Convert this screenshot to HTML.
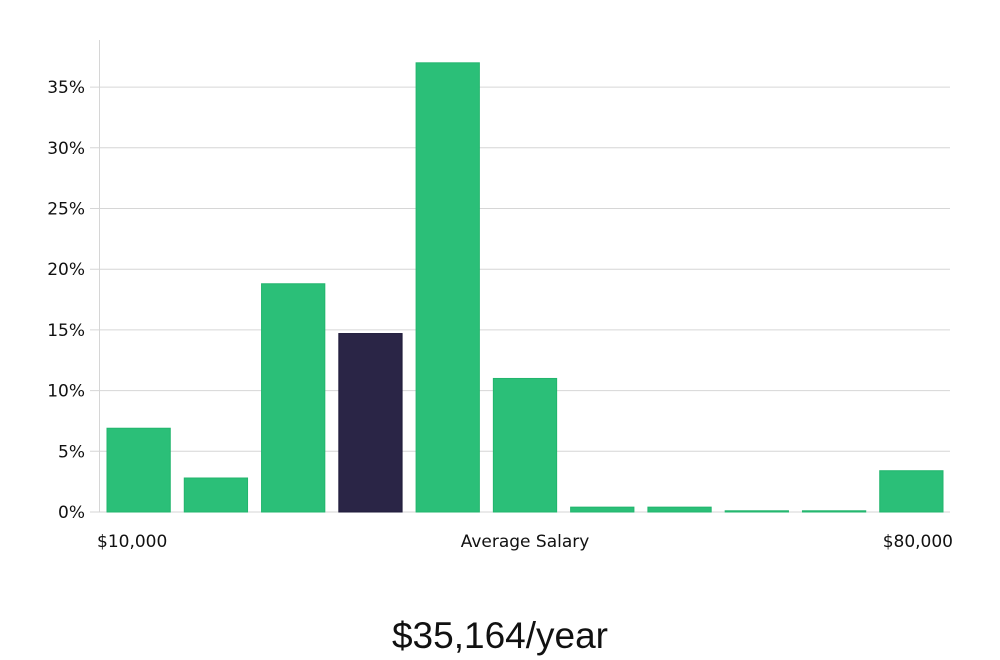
<!DOCTYPE html>
<html><head><meta charset="utf-8"><style>
html,body{margin:0;padding:0;background:#fff;width:1000px;height:660px;overflow:hidden}
svg text{font-family:"DejaVu Sans","Liberation Sans",sans-serif;fill:#111}
</style></head><body>
<svg id="chart" width="1000" height="660">
<g id="grid"></g><g id="bars"></g><g id="axis"></g>
<text x="500" y="648" text-anchor="middle" style="font-size:37px;font-weight:300;font-family:'Liberation Sans',sans-serif;fill:#111">$35,164/year</text>
</svg>
<script>
const categories = ["b1","b2","b3","b4","b5","b6","b7","b8","b9","b10","b11"];
const values = [6.9,2.8,18.8,14.7,37.0,11.0,0.4,0.4,0.1,0.1,3.4];
const highlight = [false,false,false,true,false,false,false,false,false,false,false];
const yTicks = [0,5,10,15,20,25,30,35];
const yTickLabels = ["0%","5%","10%","15%","20%","25%","30%","35%"];
const xLabels = ["$10,000","Average Salary","$80,000"];
const NS="http://www.w3.org/2000/svg";
const y0=512, pxPer=12.14, left=100, right=950;
const y = v => y0 - v*pxPer;
const step=(right-left)/categories.length;
const x = i => left + i*step + 7;
const bw = step-14;
function mk(t,a,p){const e=document.createElementNS(NS,t);for(const k in a)e.setAttribute(k,a[k]);p.appendChild(e);return e;}
const grid=document.getElementById('grid'), bars=document.getElementById('bars'), axis=document.getElementById('axis');
yTicks.forEach((t,i)=>{
  const l=mk('line',{x1:90,x2:950,y1:y(t),y2:y(t),stroke:'#d6d6d6','stroke-width':1},grid);
  
  
  const tx=mk('text',{x:85,y:y(t)+6,'text-anchor':'end','font-size':17},axis);
  tx.textContent=yTickLabels[i];
  
  
});
const ax=mk('line',{x1:99.5,x2:99.5,y1:40,y2:512,stroke:'#d6d6d6','stroke-width':1},axis);


values.forEach((v,i)=>{
  const r=mk('rect',{x:x(i),y:y(v),width:bw,height:Math.max(1,y0-y(v)),fill:highlight[i]?'#2a2546':'#2bbf78',stroke:highlight[i]?'#1e1a3a':'#22b56d','stroke-width':1},bars);
  
  
});
const xl=[[97,'start'],[525,'middle'],[953,'end']];
xLabels.forEach((s,i)=>{
  const t=mk('text',{x:xl[i][0],y:547,'text-anchor':xl[i][1],'font-size':17},axis);
  t.textContent=s;
  
  
});
</script>
</body></html>
